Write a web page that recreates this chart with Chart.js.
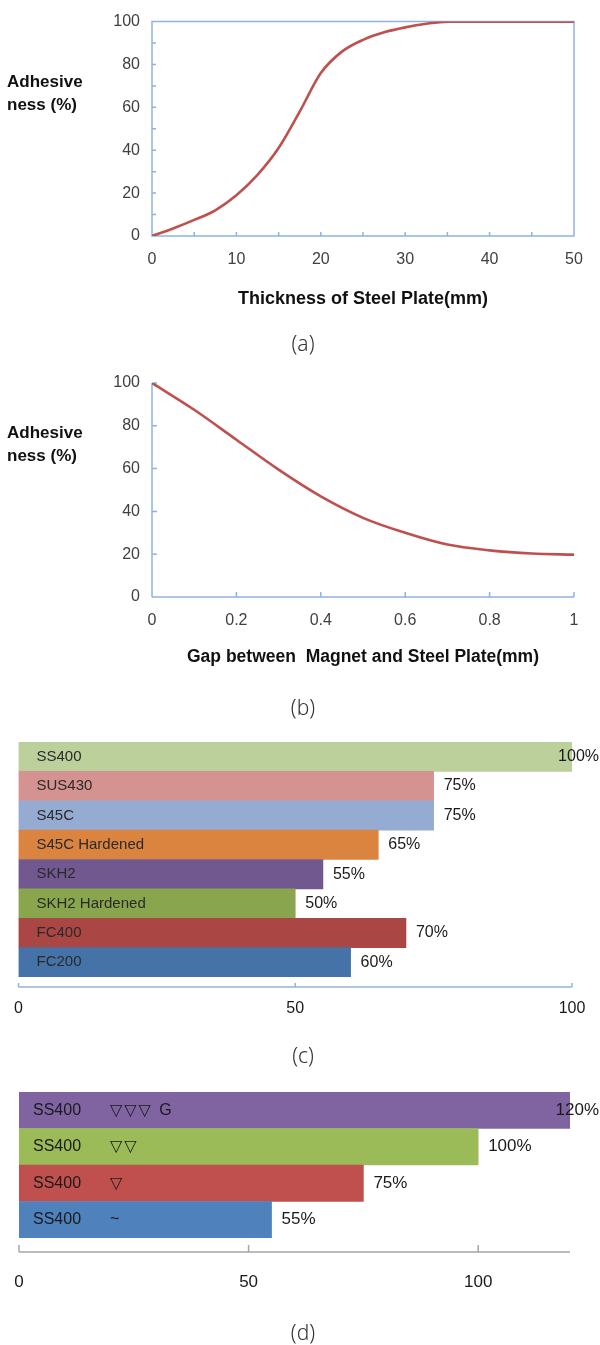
<!DOCTYPE html>
<html>
<head>
<meta charset="utf-8">
<script src="https://cdn.jsdelivr.net/npm/chart.js@4.4.1/dist/chart.umd.min.js"></script>
<style>
  body { margin: 0; background: #fff; }
  #page { position: relative; width: 600px; height: 1345px; overflow: hidden; font-family: 'Liberation Sans', Arial, sans-serif; }
  .box { position: absolute; left: 0; width: 600px; }
  .ytitle { position: absolute; left: 7px; font-weight: bold; font-size: 17px; line-height: 23px; color: #111; }
  .caption { position: absolute; left: 0; width: 606px; text-align: center; font-family: 'Noto Sans', 'Liberation Sans', sans-serif; font-weight: 300; font-size: 21px; line-height: 24px; color: #333; will-change: transform; }
</style>
</head>
<body>
<div id="page">
  <div class="box" style="top:0;height:320px"><canvas id="chartA" width="600" height="320"></canvas></div>
  <div class="ytitle" style="top:70px">Adhesive<br>ness (%)</div>
  <div class="caption" style="top:331px">(a)</div>

  <div class="box" style="top:350px;height:330px"><canvas id="chartB" width="600" height="330"></canvas></div>
  <div class="ytitle" style="top:421px">Adhesive<br>ness (%)</div>
  <div class="caption" style="top:695px">(b)</div>

  <div class="box" style="top:730px;height:300px"><canvas id="chartC" width="600" height="300"></canvas></div>
  <div class="caption" style="top:1043px">(c)</div>

  <div class="box" style="top:1080px;height:230px"><canvas id="chartD" width="600" height="230"></canvas></div>
  <div class="caption" style="top:1320px">(d)</div>
</div>

<script>
// ---------------------------------------------------------------
// Data
// ---------------------------------------------------------------
// (a) adhesiveness vs thickness of steel plate
const thickness = [0, 2.5, 5, 7.5, 10, 12.5, 15, 17.5, 20, 22.5, 25, 27.5, 30, 32.5, 35, 40, 45, 50];
const adhesionByThickness = [0, 3.5, 7.5, 12, 19, 28.5, 41, 58, 76, 86, 91.5, 95, 97.3, 99, 100, 100, 100, 100];

// (b) adhesiveness vs gap between magnet and plate
const gap = [0, 0.1, 0.2, 0.3, 0.4, 0.5, 0.6, 0.7, 0.8, 0.9, 1.0];
const adhesionByGap = [100, 87.5, 73.5, 59.5, 47, 37, 30, 24.5, 21.8, 20.3, 19.8];

// (c) adhesiveness by material
const materials = ['SS400', 'SUS430', 'S45C', 'S45C Hardened', 'SKH2', 'SKH2 Hardened', 'FC400', 'FC200'];
const materialValues = [100, 75, 75, 65, 55, 50, 70, 60];
const materialColors = ['#BBD09A', '#D49290', '#95ABD2', '#DB843F', '#71588F', '#89A54E', '#AA4643', '#4572A7'];

// (d) adhesiveness by surface finish (SS400)
const finishMaterial = ['SS400', 'SS400', 'SS400', 'SS400'];
const finishMarks = ['\u25BD\u25BD\u25BD G', '\u25BD\u25BD', '\u25BD', '~'];
const finishValues = [120, 100, 75, 55];
const finishColors = ['#8064A2', '#9BBB59', '#C0504D', '#4F81BD'];

const LINE_RED = '#C0504D';
const AXIS_BLUE = '#8DB3E2';

Chart.defaults.font.family = "'Liberation Sans', Arial, sans-serif";

// ---------------------------------------------------------------
// Plugins: axis lines with inner ticks, labels on bars
// ---------------------------------------------------------------
const axisDeco = {
    id: 'axisDeco',
    beforeDatasetsDraw(chart, args, o) {
        if (!o || !o.color) return;
        const { ctx, chartArea: a, scales: { x, y } } = chart;
        const yb = a.bottom + (o.gap || 0);
        ctx.save();
        ctx.strokeStyle = o.color;
        ctx.lineWidth = o.width || 1.5;
        ctx.beginPath();
        if (o.box) ctx.rect(a.left, a.top, a.right - a.left, a.bottom - a.top);
        if (o.left) { ctx.moveTo(a.left, a.top); ctx.lineTo(a.left, a.bottom); }
        if (o.bottom) { ctx.moveTo(a.left, yb); ctx.lineTo(a.right, yb); }
        if (o.xStep) {
            for (let v = x.min; v <= x.max + 1e-9; v += o.xStep) {
                const px = x.getPixelForValue(v);
                ctx.moveTo(px, yb);
                ctx.lineTo(px, yb - o.tick);
            }
        }
        if (o.yStep) {
            for (let v = y.min; v <= y.max + 1e-9; v += o.yStep) {
                const py = y.getPixelForValue(v);
                ctx.moveTo(a.left, py);
                ctx.lineTo(a.left + o.tick, py);
            }
        }
        ctx.stroke();
        ctx.restore();
    }
};

const barText = {
    id: 'barText',
    afterDatasetsDraw(chart, args, o) {
        if (!o || !o.names) return;
        const { ctx, chartArea: a } = chart;
        const meta = chart.getDatasetMeta(0);
        const vals = chart.data.datasets[0].data;
        ctx.save();
        ctx.textBaseline = 'middle';
        ctx.textAlign = 'left';
        meta.data.forEach((bar, i) => {
            ctx.font = o.nameFont;
            ctx.fillStyle = o.nameColor;
            ctx.fillText(o.names[i], a.left + o.nameX, bar.y);
            if (o.marks) {
                ctx.font = o.markFont;
                ctx.letterSpacing = o.markSpacing || '0px';
                ctx.fillText(o.marks[i], a.left + o.markX, bar.y);
                ctx.letterSpacing = '0px';
            }
            ctx.font = o.valueFont;
            ctx.fillStyle = o.valueColor;
            const txt = vals[i] + '%';
            const w = ctx.measureText(txt).width;
            let tx = bar.x + o.valueGap;
            if (tx + w > chart.width - 1) tx = chart.width - 1 - w;
            ctx.fillText(txt, tx, bar.y);
        });
        ctx.restore();
    }
};

Chart.register(axisDeco, barText);

const tickText = (v) => String(Number(v.toFixed(2)));

// ---------------------------------------------------------------
// Line charts (a) and (b)
// ---------------------------------------------------------------
function lineChart(id, xs, ys, opt) {
    return new Chart(document.getElementById(id), {
        type: 'line',
        data: {
            datasets: [{
                data: xs.map((v, i) => ({ x: v, y: ys[i] })),
                borderColor: LINE_RED,
                borderWidth: 2.6,
                pointRadius: 0,
                cubicInterpolationMode: 'monotone',
                fill: false
            }]
        },
        options: {
            responsive: false,
            animation: false,
            events: [],
            layout: { padding: { top: opt.top, right: 26, left: 0, bottom: 0 } },
            plugins: {
                legend: { display: false },
                tooltip: { enabled: false },
                axisDeco: opt.deco
            },
            scales: {
                x: {
                    type: 'linear',
                    min: opt.xMin, max: opt.xMax,
                    grid: { display: false, drawTicks: false },
                    border: { display: false },
                    ticks: { stepSize: opt.xStep, padding: opt.xPad, color: '#404040', font: { size: 16 }, callback: tickText },
                    title: {
                        display: true,
                        text: opt.xTitle,
                        color: '#111',
                        font: { size: opt.titleSize, weight: 'bold' },
                        padding: { top: 0, bottom: opt.titlePad }
                    },
                    afterFit: (s) => { s.height = opt.xHeight; }
                },
                y: {
                    min: 0, max: 100,
                    grid: { display: false, drawTicks: false },
                    border: { display: false },
                    ticks: { stepSize: 20, padding: 12, color: '#404040', font: { size: 16 } },
                    afterFit: (s) => { s.width = 152; }
                }
            }
        }
    });
}

lineChart('chartA', thickness, adhesionByThickness, {
    top: 19, xMin: 0, xMax: 50, xStep: 10, xPad: 14, xHeight: 84, titlePad: 10, titleSize: 18,
    xTitle: 'Thickness of Steel Plate(mm)',
    deco: { color: AXIS_BLUE, width: 1.5, box: true, xStep: 5, yStep: 10, tick: 4 }
});

lineChart('chartB', gap, adhesionByGap, {
    top: 33, xMin: 0, xMax: 1, xStep: 0.2, xPad: 14, xHeight: 83, titlePad: 12, titleSize: 17.5,
    xTitle: 'Gap between  Magnet and Steel Plate(mm)',
    deco: { color: AXIS_BLUE, width: 1.5, left: true, bottom: true, xStep: 0.2, yStep: 20, tick: 5 }
});

// ---------------------------------------------------------------
// Horizontal bar charts (c) and (d)
// ---------------------------------------------------------------
function barChart(id, labels, values, colors, opt) {
    return new Chart(document.getElementById(id), {
        type: 'bar',
        data: {
            labels: labels,
            datasets: [{
                data: values,
                backgroundColor: colors,
                borderWidth: 0,
                barPercentage: 1,
                categoryPercentage: 1
            }]
        },
        options: {
            indexAxis: 'y',
            responsive: false,
            animation: false,
            events: [],
            layout: { padding: { top: 12, left: opt.left, right: opt.right, bottom: 0 } },
            plugins: {
                legend: { display: false },
                tooltip: { enabled: false },
                axisDeco: opt.deco,
                barText: opt.text
            },
            scales: {
                y: { display: false },
                x: {
                    min: 0, max: opt.xMax,
                    grid: { display: false, drawTicks: false },
                    border: { display: false },
                    // tall line height pushes the labels down without widening the side padding
                    ticks: {
                        stepSize: 50, includeBounds: false, padding: 0, color: '#1a1a1a',
                        font: { size: opt.tickSize, lineHeight: opt.tickLine }
                    },
                    afterFit: (s) => { s.height = opt.xHeight; }
                }
            }
        }
    });
}

barChart('chartC', materials, materialValues, materialColors, {
    left: 18.5, right: 28, xMax: 100, xHeight: 53, tickSize: 16, tickLine: '64px',
    deco: { color: '#95B3D7', width: 1.5, bottom: true, gap: 10, xStep: 50, tick: 4 },
    text: {
        names: materials, nameX: 18, nameFont: "15px 'Liberation Sans', Arial, sans-serif", nameColor: '#2a2a2a',
        valueFont: "16px 'Liberation Sans', Arial, sans-serif", valueColor: '#1a1a1a', valueGap: 10
    }
});

barChart('chartD', finishMaterial, finishValues, finishColors, {
    left: 19, right: 30, xMax: 120, xHeight: 72, tickSize: 17, tickLine: '88px',
    deco: { color: '#A6A6A6', width: 1.5, bottom: true, gap: 14, xStep: 50, tick: 7 },
    text: {
        names: finishMaterial, marks: finishMarks, nameX: 14, markX: 91, markSpacing: '2px',
        nameFont: "16px 'Liberation Sans', Arial, sans-serif", nameColor: '#1a1a1a',
        markFont: "16px 'Liberation Sans', 'DejaVu Sans', sans-serif",
        valueFont: "17px 'Liberation Sans', Arial, sans-serif", valueColor: '#1a1a1a', valueGap: 10
    }
});
</script>
</body>
</html>
